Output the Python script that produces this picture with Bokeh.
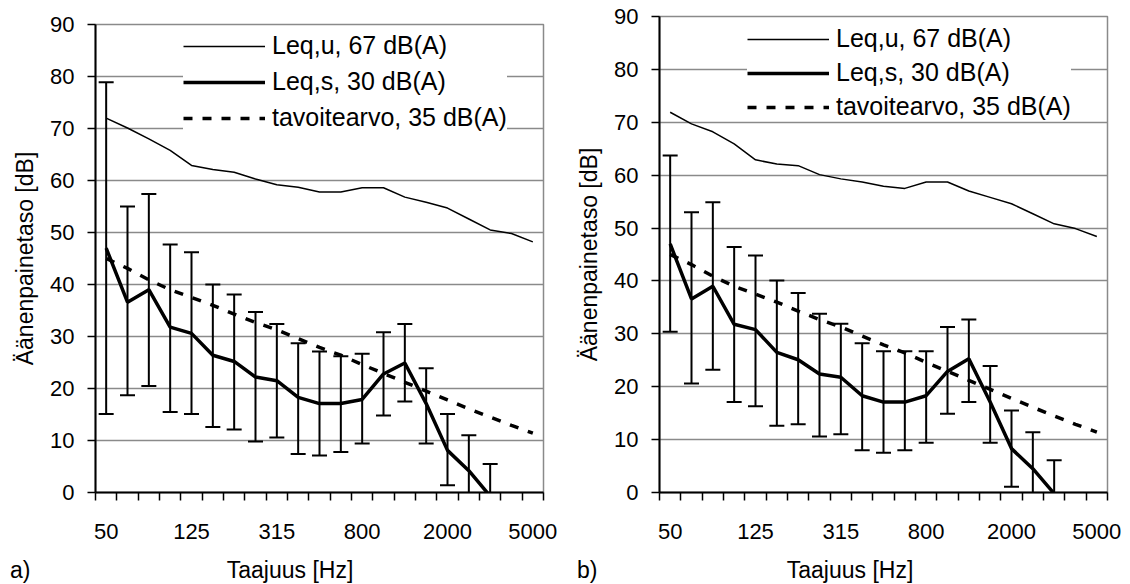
from bokeh.plotting import figure
from bokeh.models import (Range1d, FixedTicker, Legend, LegendItem, ColumnDataSource, Div, Spacer)
from bokeh.layouts import row, column
from bokeh.embed import file_html
from bokeh.resources import INLINE

nan = float("nan")

freqs = ["50", "63", "80", "100", "125", "160", "200", "250", "315", "400", "500",
         "630", "800", "1000", "1250", "1600", "2000", "2500", "3150", "4000", "5000"]
shown_labels = ["50", "125", "315", "800", "2000", "5000"]

legend_labels = ["Leq,u, 67 dB(A)", "Leq,s, 30 dB(A)", "tavoitearvo, 35 dB(A)"]
x_title = "Taajuus [Hz]"
y_title = "Äänenpainetaso [dB]"
panel_tags = ["a)", "b)"]

target = [45.0, 43.1, 40.9, 39.0, 37.5, 36.0, 34.3, 32.7, 31.3, 29.6, 27.9,
          26.4, 24.6, 22.9, 21.2, 19.5, 17.8, 16.1, 14.5, 12.9, 11.4]

leq_u_a = [72.0, 70.1, 68.0, 65.8, 62.9, 62.1, 61.6, 60.3, 59.2, 58.7, 57.8,
           57.8, 58.6, 58.6, 56.8, 55.8, 54.7, 52.6, 50.5, 49.8, 48.2]
leq_s_a = [47.0, 36.6, 39.0, 31.8, 30.6, 26.4, 25.2, 22.2, 21.5, 18.3, 17.1,
           17.1, 17.9, 22.8, 24.9, 17.1, 8.1, 4.2, -0.7, nan, nan]
err_hi_a = [78.9, 55.0, 57.4, 47.7, 46.2, 40.0, 38.1, 34.7, 32.4, 28.7, 27.1,
            26.2, 26.7, 30.8, 32.4, 23.9, 15.1, 11.0, 5.5, nan, nan]
err_lo_a = [15.1, 18.7, 20.5, 15.5, 15.1, 12.6, 12.1, 9.8, 10.6, 7.4, 7.1,
            7.8, 9.4, 14.8, 17.5, 9.4, 1.4, -2.6, -6.9, nan, nan]

leq_u_b = [71.9, 69.7, 68.2, 65.9, 62.9, 62.1, 61.8, 60.1, 59.3, 58.7, 57.9,
           57.5, 58.7, 58.7, 57.0, 55.8, 54.6, 52.7, 50.8, 49.9, 48.4]
leq_s_b = [47.0, 36.6, 39.0, 31.8, 30.8, 26.5, 25.1, 22.4, 21.8, 18.3, 17.1,
           17.1, 18.3, 22.9, 25.3, 17.1, 8.3, 4.5, -0.2, nan, nan]
err_hi_b = [63.7, 53.0, 54.9, 46.4, 44.8, 40.1, 37.7, 33.8, 31.9, 28.2, 26.7,
            26.7, 26.7, 31.3, 32.7, 23.9, 15.5, 11.4, 6.1, nan, nan]
err_lo_b = [30.4, 20.6, 23.2, 17.1, 16.3, 12.6, 12.9, 10.6, 11.0, 8.0, 7.5,
            8.0, 9.4, 14.9, 17.1, 9.4, 1.1, -2.4, -6.5, nan, nan]

FONT = "Liberation Sans"
GRID = "#8a8a8a"


def make_panel(leq_u, leq_s, err_hi, err_lo, top_border, frame_h, left_border,
               right_border, legend_xy, legend_spacing):
    n = len(freqs)
    xs = [i + 0.5 for i in range(n)]
    p = figure(frame_width=448, frame_height=frame_h,
               x_range=Range1d(0, n), y_range=Range1d(0, 90),
               min_border_left=left_border, min_border_right=right_border,
               min_border_top=top_border, min_border_bottom=64,
               output_backend="svg", toolbar_location=None,
               background_fill_color="white", border_fill_color="white")
    p.outline_line_color = GRID
    p.outline_line_width = 1.5

    # x axis: labels at band centres, tick marks at band boundaries
    p.xaxis.ticker = FixedTicker(ticks=[xs[freqs.index(f)] for f in shown_labels],
                                 minor_ticks=list(range(n + 1)))
    p.xaxis.major_label_overrides = {xs[freqs.index(f)]: f for f in shown_labels}
    p.xaxis.major_tick_line_color = None
    p.xaxis.major_tick_out = 8
    p.xaxis.major_tick_in = 0
    p.xaxis.minor_tick_line_color = "black"
    p.xaxis.minor_tick_line_width = 1.5
    p.xaxis.minor_tick_out = 8
    p.xaxis.minor_tick_in = 0
    p.xaxis.major_label_standoff = 23

    # y axis
    p.yaxis.ticker = FixedTicker(ticks=list(range(0, 91, 10)))
    p.yaxis.major_tick_out = 8
    p.yaxis.major_tick_in = 0
    p.yaxis.major_tick_line_width = 1.5
    p.yaxis.minor_tick_line_color = None
    p.yaxis.major_label_standoff = 13
    p.yaxis.axis_label = y_title
    p.yaxis.axis_label_standoff = 9

    for ax in (p.xaxis[0], p.yaxis[0]):
        ax.axis_line_width = 2
        ax.axis_line_color = "black"
        ax.major_label_text_font = FONT
        ax.major_label_text_font_size = "22px"
        ax.major_label_text_color = "black"
        ax.axis_label_text_font = FONT
        ax.axis_label_text_font_size = "23px"
        ax.axis_label_text_font_style = "normal"
        ax.axis_label_text_color = "black"

    p.xgrid.grid_line_color = None
    p.ygrid.ticker = FixedTicker(ticks=list(range(0, 91, 10)))
    p.ygrid.grid_line_color = GRID
    p.ygrid.grid_line_width = 1.5

    src = ColumnDataSource(dict(x=xs, u=leq_u, s=leq_s, t=target, hi=err_hi, lo=err_lo))
    p.segment(x0="x", y0="lo", x1="x", y1="hi", source=src, line_color="black", line_width=2)
    p.dash(x="x", y="hi", source=src, size=15, line_color="black", line_width=2)
    p.dash(x="x", y="lo", source=src, size=15, line_color="black", line_width=2)

    r_u = p.line("x", "u", source=src, line_color="black", line_width=1.5)
    r_s = p.line("x", "s", source=src, line_color="black", line_width=3.5)
    r_t = p.line("x", "t", source=src, line_color="black", line_width=3.5, line_dash="9 10")

    legend = Legend(items=[LegendItem(label=legend_labels[0], renderers=[r_u]),
                           LegendItem(label=legend_labels[1], renderers=[r_s]),
                           LegendItem(label=legend_labels[2], renderers=[r_t])],
                    location=legend_xy)
    legend.border_line_color = None
    legend.background_fill_color = "white"
    legend.background_fill_alpha = 1.0
    legend.padding = 8
    legend.margin = 0
    legend.spacing = legend_spacing
    legend.glyph_width = 82
    legend.glyph_height = 28
    legend.label_height = 28
    legend.label_standoff = 7
    legend.label_text_font = FONT
    legend.label_text_font_size = "25px"
    legend.label_text_color = "black"
    legend.label_text_baseline = "middle"
    p.add_layout(legend, "center")
    return p


pa = make_panel(leq_u_a, leq_s_a, err_hi_a, err_lo_a, 24, 468, 95, 25, (88, 360), 7)
pb = make_panel(leq_u_b, leq_s_b, err_hi_b, err_lo_b, 16, 476, 91, 21, (88, 371), 5)

TXT = {"font-family": FONT, "font-size": "23px", "color": "black",
       "line-height": "28px", "white-space": "nowrap"}


def txt(s, w, align):
    st = dict(TXT)
    st["text-align"] = align
    return Div(text=s, width=w, height=28, margin=0, styles=st)


captions = row(Spacer(width=10, height=28),
               txt(panel_tags[0], 140, "left"),
               txt(x_title, 280, "center"),
               Spacer(width=147, height=28),
               txt(panel_tags[1], 133, "left"),
               txt(x_title, 280, "center"))

layout = column(row(column(pa), column(pb)), captions)
open("out.html", "w").write(file_html(layout, INLINE))
